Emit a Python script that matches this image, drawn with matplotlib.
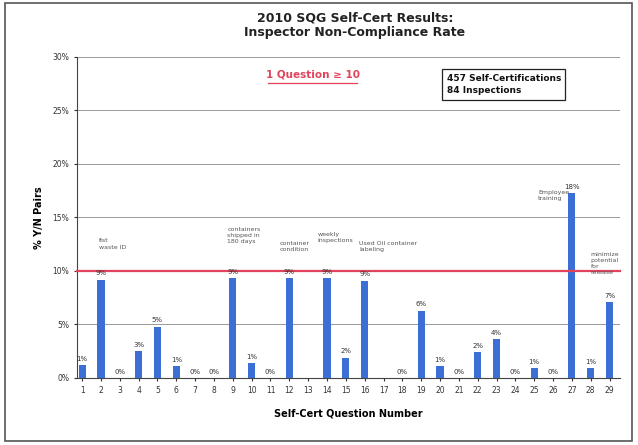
import matplotlib
matplotlib.use('Agg')
import matplotlib.pyplot as plt
from matplotlib.patches import Rectangle

# chart data
questions = list(range(1, 30))
rates = [1.2, 9.2, 0.0, 2.5, 4.8, 1.1, 0.0, 0.0, 9.3, 1.4,
         0.0, 9.3, 0.0, 9.3, 1.9, 9.1, 0.0, 0.0, 6.3, 1.1,
         0.0, 2.4, 3.6, 0.0, 0.9, 0.0, 17.3, 0.9, 7.1]
value_labels = ['1%', '9%', '0%', '3%', '5%', '1%', '0%', '0%', '9%', '1%',
                '0%', '9%', '', '9%', '2%', '9%', '', '0%', '6%', '1%',
                '0%', '2%', '4%', '0%', '1%', '0%', '18%', '1%', '7%']
notes = {2: 'fist\nwaste ID', 9: 'containers\nshipped in\n180 days',
         12: 'container\ncondition', 14: 'weekly\ninspections',
         16: 'Used Oil container\nlabeling', 27: 'Employee\ntraining',
         29: 'minimize\npotential\nfor\nrelease'}
y_ticks = [0, 5, 10, 15, 20, 25, 30]
threshold = 10

fig = plt.figure(figsize=(6.38, 4.45), dpi=100)
ax = fig.add_axes([0.1207, 0.1506, 0.851, 0.7214])

ax.bar(questions, rates, width=0.38, color='#3b6fd6', zorder=3)
ax.set_xlim(0.73, 29.55)
ax.set_ylim(0, 30)
ax.set_yticks(y_ticks)
ax.set_yticklabels(['%d%%' % t for t in y_ticks])
ax.set_xticks(questions)
ax.tick_params(axis='both', labelsize=5.5, length=2, colors='#333333')
for t in y_ticks[1:]:
    ax.axhline(t, color='#999999', lw=0.7, zorder=1)
for s in ['top', 'right']:
    ax.spines[s].set_visible(False)
ax.spines['left'].set_color('#444444')
ax.spines['bottom'].set_color('#444444')

# threshold line
ax.axhline(threshold, color='#e2435c', lw=1.6, zorder=4, clip_on=False)

for q, r, lab in zip(questions, rates, value_labels):
    if lab:
        ax.text(q, r + 0.3, lab, ha='center', va='bottom', fontsize=5,
                color='#333333', zorder=5)

note_pos = {2: (1.9, 12.0), 9: (8.7, 12.5), 12: (11.5, 11.8),
            14: (13.5, 12.6), 16: (15.7, 11.8), 27: (25.2, 16.5),
            29: (28.0, 9.6)}
for q, txt in notes.items():
    x, y = note_pos[q]
    ax.text(x, y, txt, ha='left', va='bottom', fontsize=4.5,
            color='#555555', linespacing=1.3, zorder=5)

fig.text(0.556, 0.975, '2010 SQG Self-Cert Results:\nInspector Non-Compliance Rate',
         ha='center', va='top', fontsize=9, fontweight='bold',
         color='#222222', linespacing=1.2)
fig.text(0.49, 0.832, '1 Question \u2265 10', ha='center', va='center',
         fontsize=7.5, fontweight='bold', color='#e2435c')
fig.add_artist(plt.Line2D([0.42, 0.56], [0.813, 0.813], color='#e2435c', lw=0.9))
fig.text(0.7, 0.81, '457 Self-Certifications\n84 Inspections', ha='left',
         va='center', fontsize=6.5, fontweight='bold', color='#111111',
         linespacing=1.5,
         bbox=dict(boxstyle='square,pad=0.5', fc='white', ec='#222222', lw=0.9))

ax.set_ylabel('% Y/N Pairs', fontsize=7, fontweight='bold', labelpad=6)
ax.set_xlabel('Self-Cert Question Number', fontsize=7, fontweight='bold', labelpad=10)

fig.add_artist(Rectangle((0.008, 0.008), 0.983, 0.985, transform=fig.transFigure,
                         fill=False, ec='#555555', lw=1.2))

fig.savefig('out.png', dpi=100)
